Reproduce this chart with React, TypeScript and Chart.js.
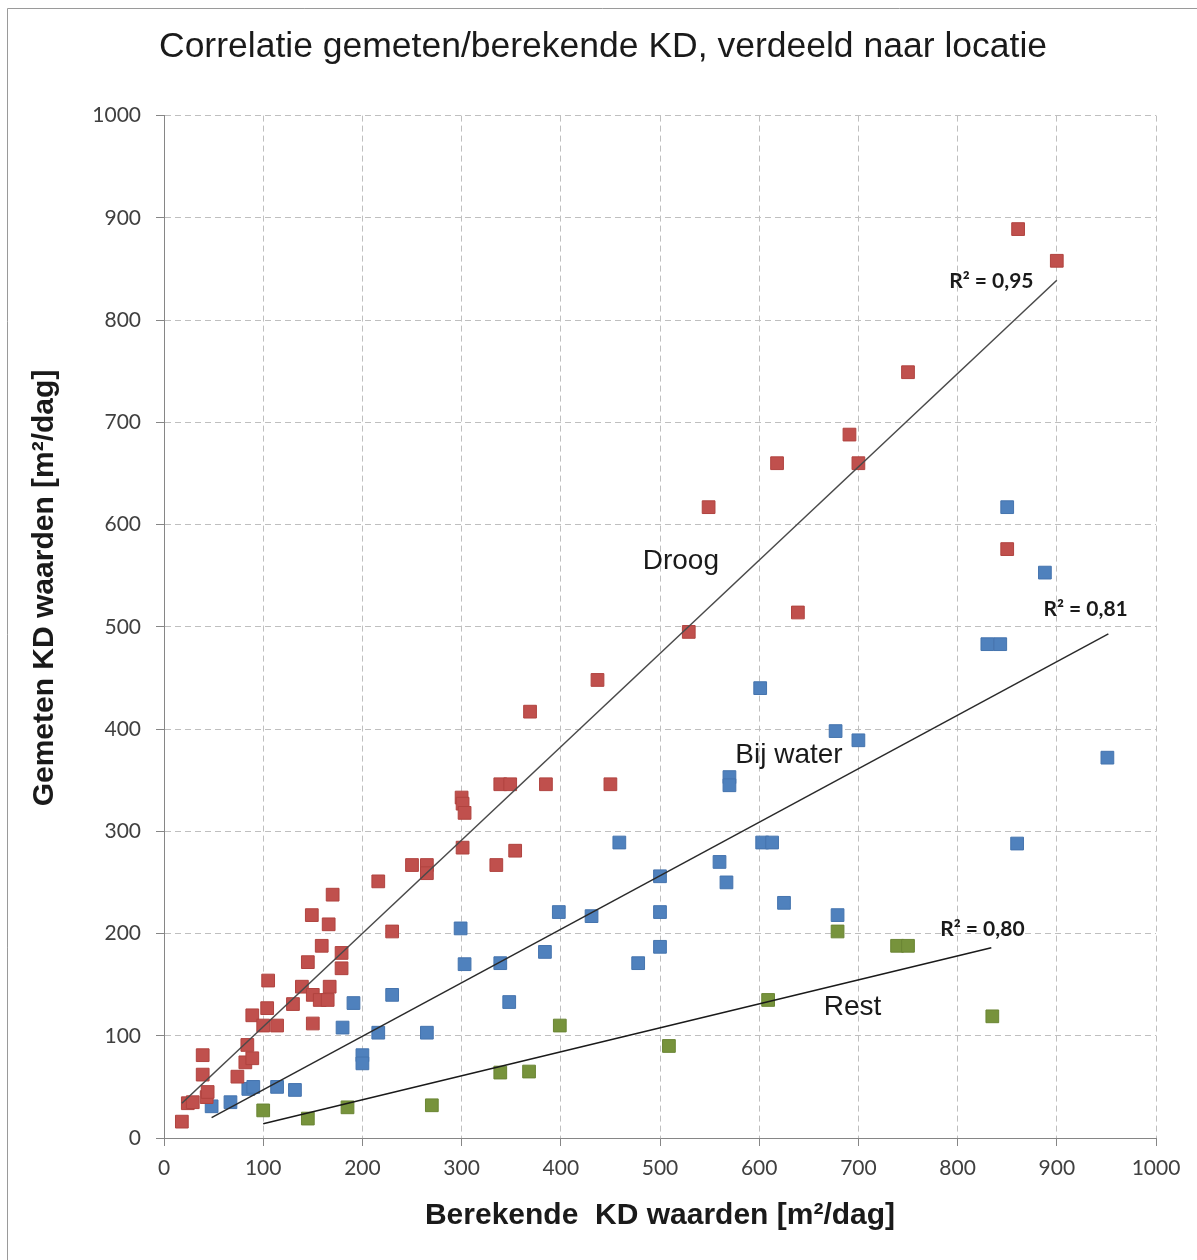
import React, { useEffect, useRef } from 'react';
import { Chart, registerables } from 'chart.js';

Chart.register(...registerables);

const TITLE = 'Correlatie gemeten/berekende KD, verdeeld naar locatie';
const X_TITLE = 'Berekende  KD waarden [m\u00B2/dag]';
const Y_TITLE = 'Gemeten KD waarden [m\u00B2/dag]';

// Droog (red)
const droog: [number, number][] = [
  [18, 16], [24, 34], [29, 35], [43, 40], [44, 45], [39, 62], [39, 81], [74, 60],
  [82, 74], [89, 78], [84, 91], [89, 120], [100, 110], [104, 127], [105, 154],
  [114, 110], [130, 131], [139, 148], [145, 172], [149, 218], [150, 140], [150, 112],
  [157, 135], [159, 188], [165, 135], [166, 209], [167, 148], [170, 238], [179, 181],
  [179, 166], [216, 251], [230, 202], [250, 267], [265, 267], [265, 259], [300, 333],
  [301, 327], [303, 318], [301, 284], [335, 267], [339, 346], [349, 346], [354, 281],
  [369, 417], [385, 346], [437, 448], [450, 346], [529, 495], [549, 617], [618, 660],
  [639, 514], [691, 688], [700, 660], [750, 749], [850, 576], [861, 889], [900, 858],
];

// Bij water (blue)
const bijWater: [number, number][] = [
  [48, 31], [67, 35], [85, 48], [90, 50], [114, 50], [132, 47], [180, 108], [191, 132],
  [200, 81], [200, 73], [216, 103], [230, 140], [265, 103], [299, 205], [303, 170],
  [339, 171], [348, 133], [384, 182], [398, 221], [431, 217], [459, 289], [478, 171],
  [500, 256], [500, 221], [500, 187], [560, 270], [567, 250], [570, 353], [570, 345],
  [601, 440], [603, 289], [613, 289], [625, 230], [677, 398], [679, 218], [700, 389],
  [830, 483], [843, 483], [850, 617], [860, 288], [888, 553], [951, 372],
];

// Rest (green)
const rest: [number, number][] = [
  [100, 27], [145, 19], [185, 30], [270, 32], [339, 64], [368, 65], [399, 110],
  [509, 90], [609, 135], [679, 202], [739, 188], [750, 188], [835, 119],
];

// Trend lines (end points)
const trendDroog: [number, number][] = [[18, 34], [900, 839]];
const trendBijWater: [number, number][] = [[48, 20], [952, 493]];
const trendRest: [number, number][] = [[100, 14], [834, 186]];

// Labels on the plot
const labelTexts = ['Droog', 'Bij water', 'Rest', 'R\u00B2 = 0,95', 'R\u00B2 = 0,81', 'R\u00B2 = 0,80'];

const toPts = (arr: [number, number][]) => arr.map(([x, y]) => ({ x, y }));

export default function App() {
  const ref = useRef<HTMLCanvasElement | null>(null);

  useEffect(() => {
    if (!ref.current) return;

    const annotations = [
      { text: labelTexts[0], x: 521, y: 564, font: '28px "Liberation Sans", Arial, sans-serif' },
      { text: labelTexts[1], x: 630, y: 374, font: '28px "Liberation Sans", Arial, sans-serif' },
      { text: labelTexts[2], x: 694, y: 128, font: '28px "Liberation Sans", Arial, sans-serif' },
      { text: labelTexts[3], x: 834, y: 838, font: 'bold 21px Lato, "Liberation Sans", sans-serif' },
      { text: labelTexts[4], x: 929, y: 517, font: 'bold 21px Lato, "Liberation Sans", sans-serif' },
      { text: labelTexts[5], x: 825, y: 204, font: 'bold 21px Lato, "Liberation Sans", sans-serif' },
    ];

    const decor = {
      id: 'decor',
      beforeDraw(chart: any) {
        const ctx = chart.ctx;
        ctx.save();
        ctx.fillStyle = '#ffffff';
        ctx.fillRect(0, 0, chart.width, chart.height);
        ctx.strokeStyle = '#9a9a9a';
        ctx.lineWidth = 1;
        ctx.beginPath();
        ctx.moveTo(7.5, chart.height);
        ctx.lineTo(7.5, 8.5);
        ctx.lineTo(chart.width, 8.5);
        ctx.stroke();
        ctx.restore();
      },
      afterDraw(chart: any) {
        const ctx = chart.ctx;
        const xs = chart.scales.x;
        const ys = chart.scales.y;
        ctx.save();
        ctx.fillStyle = '#1a1a1a';
        ctx.textAlign = 'center';
        ctx.textBaseline = 'middle';
        for (const a of annotations) {
          ctx.font = a.font;
          ctx.fillText(a.text, xs.getPixelForValue(a.x), ys.getPixelForValue(a.y));
        }
        // y-axis title
        ctx.translate(45, 588);
        ctx.rotate(-Math.PI / 2);
        ctx.font = 'bold 30px "Liberation Sans", Arial, sans-serif';
        ctx.fillStyle = '#1a1a1a';
        ctx.fillText(Y_TITLE, 0, 0);
        ctx.restore();
      },
    };

    const tickFont = { family: 'Lato, "Liberation Sans", sans-serif', size: 21 };
    const plain = (v: any) => String(v);

    const chart = new Chart(ref.current, {
      type: 'scatter',
      data: {
        datasets: [
          { label: 'Droog trend', data: toPts(trendDroog), showLine: true, borderColor: '#4a4a4a', borderWidth: 1.5, pointRadius: 0, order: 0 },
          { label: 'Bij water trend', data: toPts(trendBijWater), showLine: true, borderColor: '#2a2a2a', borderWidth: 1.5, pointRadius: 0, order: 0 },
          { label: 'Rest trend', data: toPts(trendRest), showLine: true, borderColor: '#1a1a1a', borderWidth: 1.5, pointRadius: 0, order: 0 },
          { label: 'Droog', data: toPts(droog), pointStyle: 'rect', pointRadius: 9, backgroundColor: '#C0504D', borderColor: '#B0433F', borderWidth: 1, order: 1 },
          { label: 'Bij water', data: toPts(bijWater), pointStyle: 'rect', pointRadius: 9, backgroundColor: '#4F81BD', borderColor: '#4574AE', borderWidth: 1, order: 1 },
          { label: 'Rest', data: toPts(rest), pointStyle: 'rect', pointRadius: 9, backgroundColor: '#77933C', borderColor: '#6A8534', borderWidth: 1, order: 1 },
        ],
      },
      options: {
        responsive: false,
        animation: false,
        devicePixelRatio: 1,
        layout: { padding: { left: 50, right: 41, top: 0, bottom: 0 } },
        plugins: {
          legend: { display: false },
          tooltip: { enabled: false },
          title: {
            display: true,
            text: TITLE,
            color: '#1a1a1a',
            font: { family: '"Liberation Sans", Arial, sans-serif', size: 35.5, weight: 'normal' },
            padding: { top: 26, bottom: 47 },
          },
        },
        scales: {
          x: {
            type: 'linear',
            min: 0,
            max: 1000,
            ticks: { stepSize: 100, color: '#404040', font: tickFont, padding: 10, maxRotation: 0, autoSkip: false, callback: plain },
            grid: { color: '#BFBFBF', lineWidth: 1, tickLength: 8, tickColor: '#868686', drawTicks: true },
            border: { display: true, color: '#868686', width: 1, dash: [6, 4] },
            title: {
              display: true,
              text: X_TITLE,
              color: '#1a1a1a',
              font: { family: '"Liberation Sans", Arial, sans-serif', size: 30, weight: 'bold' },
              padding: { top: 0, bottom: 26 },
            },
            afterFit: (s: any) => { s.height = 122; },
          },
          y: {
            type: 'linear',
            min: 0,
            max: 1000,
            ticks: { stepSize: 100, color: '#404040', font: tickFont, padding: 15, autoSkip: false, callback: plain },
            grid: { color: '#BFBFBF', lineWidth: 1, tickLength: 8, tickColor: '#868686', drawTicks: true },
            border: { display: true, color: '#868686', width: 1, dash: [6, 4] },
            afterFit: (s: any) => { s.width = 114; },
          },
        },
      },
      plugins: [decor],
    } as any);

    return () => chart.destroy();
  }, []);

  return (
    <div style={{ position: 'absolute', left: 0, top: 0, width: 1197, height: 1260 }}>
      <canvas ref={ref} width={1197} height={1260} style={{ display: 'block', width: 1197, height: 1260 }} />
    </div>
  );
}
